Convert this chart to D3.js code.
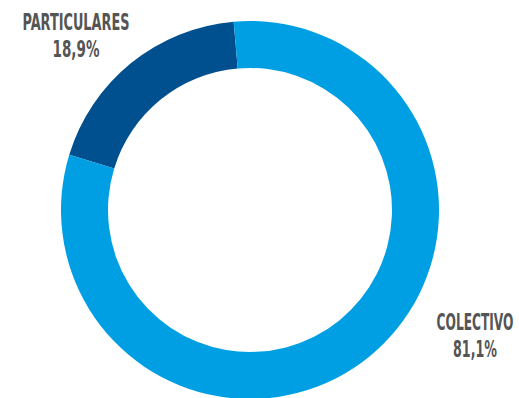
<!DOCTYPE html>
<html>
<head>
<meta charset="utf-8">
<script src="https://cdn.jsdelivr.net/npm/d3@7"></script>
<style>
  body { margin: 0; background: #fff; }
  .lbl { font-family: "Liberation Sans Narrow", "DejaVu Sans Condensed", sans-serif; font-weight: bold; fill: #555; }
</style>
</head>
<body>
<div id="chart"></div>
<script>
// data
var categories = ["PARTICULARES", "COLECTIVO"];
var shares = [18.9, 81.1];
var shareLabels = ["18,9%", "81,1%"];
var colors = ["#00508f", "#009fe3"];

var width = 519, height = 398;
var cx = 250, cy = 210;
var outerR = 189, innerR = 142;

var svg = d3.select("#chart").append("svg")
    .attr("width", width)
    .attr("height", height);

var g = svg.append("g")
    .attr("transform", "translate(" + cx + "," + cy + ")");

// particulares slice sits left of 12 o'clock, colectivo runs clockwise after it
var startDeg = -73;
var pie = d3.pie()
    .sort(null)
    .value(function(d){ return d; })
    .startAngle(startDeg * Math.PI / 180)
    .endAngle((startDeg + 360) * Math.PI / 180);

var arc = d3.arc()
    .innerRadius(innerR)
    .outerRadius(outerR);

g.selectAll("path")
    .data(pie(shares))
    .enter().append("path")
    .attr("d", arc)
    .attr("fill", function(d, i){ return colors[i]; });

// labels: condensed look made by squeezing the text horizontally
var labelPos = [
    {x: 76, y1: 30, y2: 57, w1: 107, w2: 47},
    {x: 475, y1: 330, y2: 357, w1: 77, w2: 44}
];

function squeezedText(x, y, txt, w){
    var t = svg.append("g")
        .attr("transform", "translate(" + x + "," + y + ")")
        .append("text")
        .attr("class", "lbl")
        .attr("text-anchor", "middle")
        .attr("font-size", 23)
        .text(txt);
    var natural = t.node().getComputedTextLength();
    t.attr("transform", "scale(" + (w / natural) + ",1)");
}

categories.forEach(function(c, i){
    var p = labelPos[i];
    squeezedText(p.x, p.y1, c, p.w1);
    squeezedText(p.x, p.y2, shareLabels[i], p.w2);
});
</script>
</body>
</html>
